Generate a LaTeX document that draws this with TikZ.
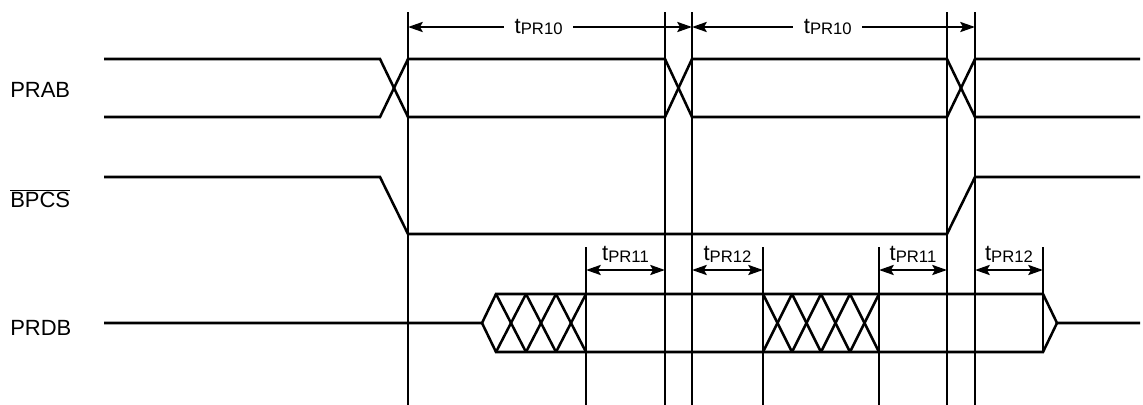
\documentclass[tikz,border=0pt]{standalone}
\usepackage{fontspec}
\setmainfont{Liberation Sans}
\usetikzlibrary{arrows.meta, positioning}
\newcommand{\tpr}[1]{t\raisebox{-1pt}{\fontsize{12.5}{13}\selectfont PR#1}}

\begin{document}
\begin{tikzpicture}[x=0.75pt, y=-0.75pt,
wave/.style={line width=1.9pt, line join=miter},
guide/.style={line width=1.9pt},
dim/.style={{Stealth[length=11pt, width=7.5pt, inset=2pt]}-{Stealth[length=11pt, width=7.5pt, inset=2pt]}, line width=1.9pt},
signame/.style={anchor=base west, inner sep=0pt, font=\fontsize{16.5}{18}\selectfont},
tlabel/.style={inner sep=0pt, font=\fontsize{16.5}{18}\selectfont}]
\useasboundingbox (0,0) rectangle (1143,404);
% edge positions
\foreach \n/\x in {a1/408, a2/665, a3/692, a4/947, a5/975}
    \coordinate (\n) at (\x,12);
\foreach \n/\x in {b1/586, b2/763, b3/879, b4/1043}
    \coordinate (\n) at (\x,247);
\coordinate (rowA) at (0,27);
\coordinate (rowB) at (0,270);
% signal names
\node[signame] (prab) at (10,97) {PRAB};
\node[signame] (bpcs) at (10,207) {$\overline{\mbox{BPCS}}$};
\node[signame] (prdb) at (10,335) {PRDB};
% waveforms
\draw[wave] (104,59) -- (380,59) -- (408,117) -- (665,117) -- (692,59) -- (947,59) -- (975,117) -- (1140,117);
\draw[wave] (104,117) -- (380,117) -- (408,59) -- (665,59) -- (692,117) -- (947,117) -- (975,59) -- (1140,59);
\draw[wave] (104,177) -- (380,177) -- (408,234) -- (947,234) -- (975,177) -- (1140,177);
\draw[wave] (104,323) -- (482,323) -- (496,294) -- (1043,294) -- (1057,323) -- (1140,323);
\draw[wave] (482,323) -- (496,352) -- (1043,352) -- (1057,323);
\foreach \x in {496,526,556} {
    \draw[wave] (\x,294) -- (\x+30,352);
    \draw[wave] (\x,352) -- (\x+30,294);
}
\foreach \x in {763,792,821,850} {
    \draw[wave] (\x,294) -- (\x+29,352);
    \draw[wave] (\x,352) -- (\x+29,294);
}
% reference lines
\foreach \n in {a1,a2,a3,a4,a5,b1,b2,b3}
    \draw[guide] (\n) -- (\n |- 0,405);
\draw[guide] (b4) -- (b4 |- 0,352);
% timing
\draw[dim] (a1 |- rowA) -- node[pos=0.46, fill=white, tlabel, inner xsep=8pt, inner ysep=2pt] {\tpr{10}} (a3 |- rowA);
\draw[dim] (a3 |- rowA) -- node[pos=0.48, fill=white, tlabel, inner xsep=8pt, inner ysep=2pt] {\tpr{10}} (a5 |- rowA);
\draw[dim] (b1 |- rowB) -- node[tlabel, above=5pt] {\tpr{11}} (a2 |- rowB);
\draw[dim] (a3 |- rowB) -- node[tlabel, above=5pt] {\tpr{12}} (b2 |- rowB);
\draw[dim] (b3 |- rowB) -- node[tlabel, above=5pt] {\tpr{11}} (a4 |- rowB);
\draw[dim] (a5 |- rowB) -- node[tlabel, above=5pt] {\tpr{12}} (b4 |- rowB);
\end{tikzpicture}
\end{document}
